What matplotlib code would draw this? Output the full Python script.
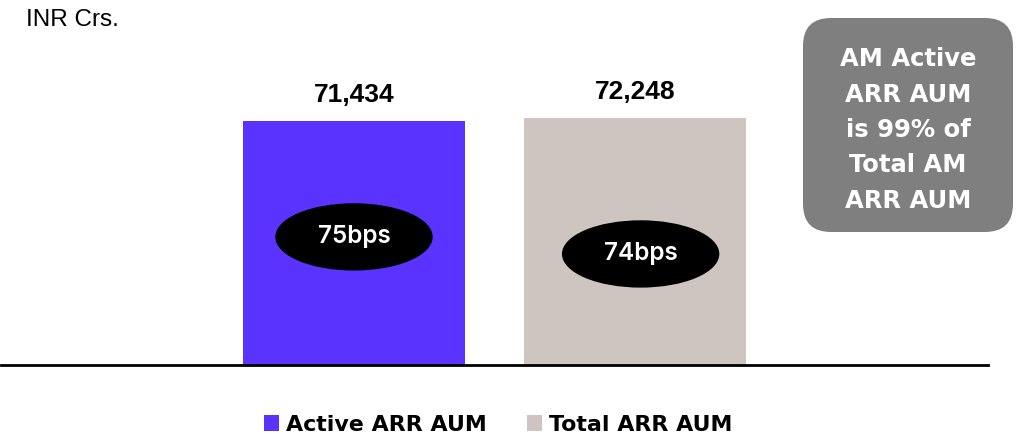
import matplotlib.pyplot as plt
from matplotlib.patches import Ellipse, FancyBboxPatch

categories = ["Active ARR AUM", "Total ARR AUM"]
aum = [71434, 72248]
bps_labels = ["75bps", "74bps"]
unit_label = "INR Crs."
box_text = "AM Active\nARR AUM\nis 99% of\nTotal AM\nARR AUM"

colors = ["#5a33ff", "#cec5c0"]

fig = plt.figure(figsize=(10.2, 4.38), dpi=100)

# main axes: bottom spine at y=365px, top at 0px
ax = fig.add_axes([1 / 1020, 1 - 365 / 438, 987 / 1020, 365 / 438])
xs = list(range(len(aum)))
bars = ax.bar(xs, aum, width=0.79, color=colors)
ax.set_xlim(-1.256, 2.256)
ax.set_ylim(0, 365 * aum[0] / 244)
for side in ["top", "left", "right"]:
    ax.spines[side].set_visible(False)
ax.spines["bottom"].set_linewidth(2)
ax.spines["bottom"].set_color("black")
ax.set_xticks([])
ax.set_yticks([])

for b, v in zip(bars, aum):
    ax.annotate(f"{v:,}", (b.get_x() + b.get_width() / 2, v),
                xytext=(0, 19), textcoords="offset points",
                ha="center", va="center", fontsize=19, fontweight="bold",
                family="Liberation Sans")

# black ellipses with bps
ell_frac = [0.525, 0.45]
ell_dx = [0.0, 0.02]
for x, v, fr, dx, t in zip(xs, aum, ell_frac, ell_dx, bps_labels):
    cy = v * fr
    ax.add_patch(Ellipse((x + dx, cy), 0.555, 19300, color="black", zorder=3))
    ax.text(x + dx, cy, t, ha="center", va="center", color="white",
            fontsize=17.5, fontweight="semibold", zorder=4,
            family=["Inter", "DejaVu Sans"])

# overlay in pixel coordinates
ov = fig.add_axes([0, 0, 1, 1])
ov.set_xlim(0, 1020)
ov.set_ylim(438, 0)
ov.axis("off")
ov.text(26, 20, unit_label, ha="left", va="center", fontsize=17.5,
        family="Liberation Sans")
ov.add_patch(FancyBboxPatch((803 + 28, 18 + 28), 210 - 56, 214 - 56,
                            boxstyle="round,pad=28,rounding_size=28",
                            facecolor="#7f7f7f", edgecolor="none"))
ov.text(908, 130, box_text, ha="center", va="center", color="white",
        fontsize=17.5, fontweight="bold", family="DejaVu Sans",
        linespacing=1.6)

fig.legend(bars, categories, loc="center", bbox_to_anchor=(498 / 1020, 1 - 425 / 438),
           ncol=2, frameon=False, handlelength=0.72, handleheight=0.72,
           handletextpad=0.3, columnspacing=1.8,
           prop={"family": "DejaVu Sans", "weight": "bold", "size": 15.9})

fig.savefig("out.png", dpi=100)
